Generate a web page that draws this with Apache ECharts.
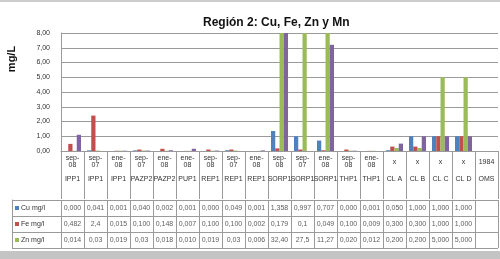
<!DOCTYPE html>
<html>
<head>
<meta charset="utf-8">
<script src="https://cdn.jsdelivr.net/npm/echarts@6/dist/echarts.min.js"></script>
<style>html,body{margin:0;padding:0;background:#fff}#c{width:500px;height:259px}</style>
</head>
<body>
<div id="c"></div>
<script>
var dates = ['sep-08','sep-07','ene-08','sep-07','ene-08','ene-08','sep-08','sep-07','ene-08','sep-08','sep-07','ene-08','sep-08','ene-08','x','x','x','x','1984'];
var stations = ['IPP1','IPP1','IPP1','PAZP2','PAZP2','PUP1','REP1','REP1','REP1','SORP1','SORP1','SORP1','THP1','THP1','CL A','CL B','CL C','CL D','OMS'];
var cuText = ['0,000','0,041','0,001','0,040','0,002','0,001','0,000','0,049','0,001','1,358','0,997','0,707','0,000','0,001','0,050','1,000','1,000','1,000',''];
var feText = ['0,482','2,4','0,015','0,100','0,148','0,007','0,100','0,100','0,002','0,179','0,1','0,049','0,100','0,009','0,300','0,300','1,000','1,000',''];
var znText = ['0,014','0,03','0,019','0,03','0,018','0,010','0,019','0,03','0,006','32,40','27,5','11,27','0,020','0,012','0,200','0,200','5,000','5,000',''];
var mnValues = [1.1, 0, 0.02, 0.03, 0.05, 0.15, 0.03, 0, 0.04, 9.5, 0, 7.2, 0.02, 0, 0.5, 1.0, 1.0, 1.0, null];
var rowNames = ['Cu mg/l','Fe mg/l','Zn mg/l'];
var yTicks = [0,1,2,3,4,5,6,7,8];

var colors = {cu:'#4F81BD', fe:'#C0504D', zn:'#9BBB59', mn:'#8064A2'};
function num(s){ return s === '' ? null : parseFloat(s.replace(',', '.')); }
var cu = cuText.map(num), fe = feText.map(num), zn = znText.map(num);

var cats = dates.map(function(d, i){ return d + '|' + stations[i]; });
var tableRows = [cuText, feText, znText];
var cellData = [];
tableRows.forEach(function(row, r){
  row.forEach(function(t, i){ cellData.push({name: t, value: [i, r]}); });
});

var fontFam = 'Liberation Sans, Arial, sans-serif';
var lineCol = '#9a9a9a';

var chart = echarts.init(document.getElementById('c'), null, {renderer:'canvas'});
chart.setOption({
  animation: false,
  backgroundColor: '#fff',
  title: {
    text: 'Región 2: Cu, Fe, Zn y Mn',
    left: 198, top: 12,
    textStyle: {fontFamily: fontFam, fontSize: 12, fontWeight: 'bold', color: '#111'}
  },
  graphic: [
    {type:'line', shape:{x1:0,y1:1,x2:500,y2:1}, style:{stroke:'#9a9a9a', lineWidth:1}},
    {type:'rect', shape:{x:0,y:251,width:500,height:8}, style:{fill:'#c4c4c4'}},
    {type:'text', x:12, y:59, rotation: Math.PI/2,
     style:{text:'mg/L', fontFamily: fontFam, fontSize: 11, fontWeight:'bold', fill:'#111', align:'center', verticalAlign:'middle'}}
  ],
  grid: [
    {left: 61, right: 2, top: 33, height: 118, containLabel: false},
    {left: 61, right: 2, top: 200, height: 48, containLabel: false},
    {left: 12, width: 49, top: 200, height: 48, containLabel: false}
  ],
  xAxis: [
    {
      type: 'category', gridIndex: 0, data: cats, boundaryGap: true,
      axisLine: {lineStyle: {color: lineCol}},
      axisTick: {show: true, interval: 0, length: 48, lineStyle: {color: lineCol}},
      axisLabel: {
        interval: 0, margin: 4, color: '#333',
        formatter: function(v){
          var p = v.split('|'), d = p[0], s = p[1];
          var top = d.indexOf('-') > 0 ? '{a|' + d.split('-')[0] + '-}\n{a|' + d.split('-')[1] + '}' : '{b|' + d + '}';
          return top + '\n{a|}\n{a|' + s + '}';
        },
        rich: {
          a: {fontSize: 7, lineHeight: 7, fontFamily: fontFam, color: '#333'},
          b: {fontSize: 7, lineHeight: 14, fontFamily: fontFam, color: '#333'}
        }
      },
      splitLine: {show: false}
    },
    {
      type: 'category', gridIndex: 1, data: cats, boundaryGap: true,
      axisLine: {show: false}, axisTick: {show: false}, axisLabel: {show: false},
      splitLine: {show: true, interval: 0, lineStyle: {color: lineCol}}
    },
    {type: 'value', gridIndex: 2, min: 0, max: 1, show: false}
  ],
  yAxis: [
    {
      type: 'value', gridIndex: 0, min: 0, max: 8, interval: 1,
      axisLine: {show: true, lineStyle: {color: lineCol}},
      axisTick: {show: false},
      axisLabel: {margin: 11, fontSize: 7, fontFamily: fontFam, color: '#333',
        formatter: function(v){ return yTicks.indexOf(v) >= 0 ? v.toFixed(2).replace('.', ',') : ''; }},
      splitLine: {lineStyle: {color: lineCol}}
    },
    {
      type: 'category', gridIndex: 1, data: rowNames, inverse: true,
      axisLine: {show: false}, axisTick: {show: false}, axisLabel: {show: false},
      splitLine: {show: true, interval: 0, lineStyle: {color: lineCol}}
    },
    {
      type: 'category', gridIndex: 2, data: rowNames, inverse: true,
      axisLine: {show: true, lineStyle: {color: lineCol}}, axisTick: {show: false},
      axisLabel: {inside: true, margin: 3, fontSize: 7, fontFamily: fontFam, color: '#333',
        formatter: function(v, i){ return '{k' + i + '|}{t|' + v + '}'; },
        rich: {
          k0: {width: 4, height: 4, backgroundColor: colors.cu},
          k1: {width: 4, height: 4, backgroundColor: colors.fe},
          k2: {width: 4, height: 4, backgroundColor: colors.zn},
          t: {fontSize: 7, fontFamily: fontFam, color: '#333', padding: [0,0,0,2]}
        }},
      splitLine: {show: true, interval: 0, lineStyle: {color: lineCol}}
    }
  ],
  series: [
    {name: 'Cu mg/l', type: 'bar', data: cu, itemStyle: {color: colors.cu}, barGap: '0%', barCategoryGap: '26%'},
    {name: 'Fe mg/l', type: 'bar', data: fe, itemStyle: {color: colors.fe}, barGap: '0%', barCategoryGap: '26%'},
    {name: 'Zn mg/l', type: 'bar', data: zn, itemStyle: {color: colors.zn}, barGap: '0%', barCategoryGap: '26%'},
    {name: 'Mn mg/l', type: 'bar', data: mnValues, itemStyle: {color: colors.mn}, barGap: '0%', barCategoryGap: '26%'},
    {
      type: 'scatter', xAxisIndex: 1, yAxisIndex: 1, symbolSize: 0, data: cellData, silent: true,
      label: {show: true, position: 'inside', formatter: '{b}', fontSize: 7, fontFamily: fontFam, color: '#333'}
    }
  ]
});
</script>
</body>
</html>
